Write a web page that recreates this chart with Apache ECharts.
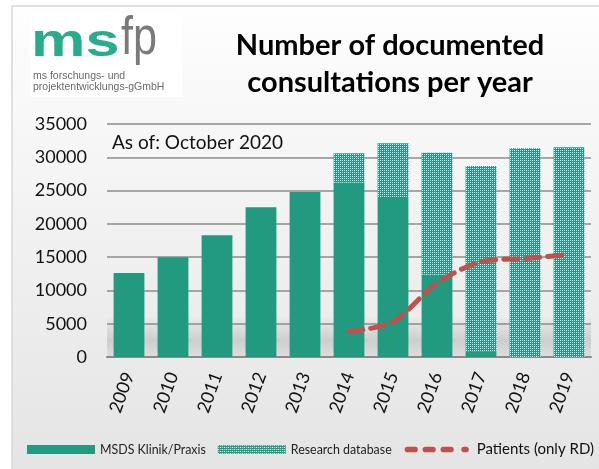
<!DOCTYPE html>
<html><head><meta charset="utf-8">
<script src="https://cdn.jsdelivr.net/npm/echarts@6/dist/echarts.min.js"></script>
<style>html,body{margin:0;padding:0;background:#fff}#c{width:599px;height:469px}</style>
</head><body><div id="c"></div>
<script>
const years = ['2009','2010','2011','2012','2013','2014','2015','2016','2017','2018','2019'];
const klinik = [12600, 15000, 18300, 22500, 24800, 26200, 23900, 12400, 800, 0, 0];
const research = [0, 0, 0, 0, 0, 4400, 8200, 18300, 27900, 31350, 31500];
const patients = [null, null, null, null, null, 3800, 5300, 11100, 14300, 14800, 15400];
const yTicks = [0, 5000, 10000, 15000, 20000, 25000, 30000, 35000];

const GREEN = '#219a80';
const pc = document.createElement('canvas');
pc.width = 4; pc.height = 4;
const g = pc.getContext('2d');
g.fillStyle = GREEN; g.fillRect(0,0,4,4);
g.fillStyle = '#ffffff'; g.fillRect(0,0,1,1); g.fillRect(2,2,1,1);
g.fillStyle = '#b8e0d4'; g.fillRect(2,0,1,1); g.fillRect(0,2,1,1);

const dashIcon = 'path://M0,0L0.05,0L0,0.05Z M72,9L71.95,9L72,8.95Z ' +
  'M4,1.5h8a3,3 0 0 1 0,6h-8a3,3 0 0 1 0,-6Z ' +
  'M23,1.5h8a3,3 0 0 1 0,6h-8a3,3 0 0 1 0,-6Z ' +
  'M42,1.5h8a3,3 0 0 1 0,6h-8a3,3 0 0 1 0,-6Z ' +
  'M64,1.5h2a3,3 0 0 1 0,6h-2a3,3 0 0 1 0,-6Z';

const chart = echarts.init(document.getElementById('c'), null, {renderer:'canvas'});
const FONT = 'Lato';
chart.setOption({
  animation: false,
  backgroundColor: '#ffffff',
  graphic: [
    {type:'rect', z:-10, shape:{x:12,y:6,width:600,height:470},
     style:{fill:{type:'linear',x:0,y:0,x2:0,y2:1,colorStops:[{offset:0,color:'#fefefe'},{offset:0.6,color:'#eeeeee'},{offset:1,color:'#e4e4e4'}]}, stroke:'#d8d8d8', lineWidth:1.5}},
    {type:'rect', z:-9, shape:{x:30,y:13,width:152,height:84}, style:{fill:'#ffffff'}},
    {type:'rect', z:-5, shape:{x:107,y:316,width:484,height:41},
     style:{fill:{type:'linear',x:0,y:0,x2:0,y2:1,colorStops:[{offset:0,color:'rgba(150,150,150,0)'},{offset:0.6,color:'rgba(150,150,150,0.35)'},{offset:1,color:'rgba(150,150,150,0.15)'}]}}},
    {type:'text', z:5, x:31, y:66, scaleX:1.33, style:{text:'ms', fill:'#27ad8c', font:'bold 46px "Liberation Sans"', verticalAlign:'bottom'}},
    {type:'text', z:5, x:121, y:12, scaleX:0.8, style:{text:'fp', fill:'#7a7a7a', font:'54px "Liberation Sans"', verticalAlign:'top'}},
    {type:'text', z:5, x:33, y:71, style:{text:'ms forschungs- und', fill:'#6a6a6a', font:'10.5px "Liberation Sans"', verticalAlign:'top'}},
    {type:'text', z:5, x:33, y:82, style:{text:'projektentwicklungs-gGmbH', fill:'#6a6a6a', font:'10.5px "Liberation Sans"', verticalAlign:'top'}},
    {type:'text', z:5, x:390, y:31, style:{text:'Number of documented', fill:'#000', font:'bold 29px '+FONT, align:'center', verticalAlign:'top'}},
    {type:'text', z:5, x:390, y:68, style:{text:'consultations per year', fill:'#000', font:'bold 29px '+FONT, align:'center', verticalAlign:'top'}},
    {type:'text', z:5, x:112, y:133, style:{text:'As of: October 2020', fill:'#111', font:'19px '+FONT, verticalAlign:'top'}}
  ],
  grid: {left:107, right:8, top:124, bottom:112, containLabel:false},
  legend: {
    left: 27, top: 442, width: 590, padding: 0, itemWidth: 68, itemHeight: 9, itemGap: 12,
    data: [
      {name:'MSDS Klinik/Praxis', icon:'rect'},
      {name:'Research database', icon:'rect'},
      {name:'Patients (only RD)', icon: dashIcon}
    ],
    formatter: n => n === 'Patients (only RD)' ? '{b|' + n + '}' : '{a|' + n + '}',
    textStyle: {rich: {a:{fontFamily:FONT, fontSize:12.4, color:'#222'}, b:{fontFamily:FONT, fontSize:15, color:'#111'}}}
  },
  xAxis: {
    type:'category', data: years,
    axisLine:{show:true, lineStyle:{color:'#8a8a8a', width:2}},
    axisTick:{show:false},
    axisLabel:{rotate:70, fontFamily:FONT, fontSize:18, color:'#111', margin:16}
  },
  yAxis: {
    type:'value', min:0, max:35000, interval:5000,
    axisLine:{show:false}, axisTick:{show:false},
    axisLabel:{fontFamily:FONT, fontSize:18, color:'#111', margin:20,
      formatter: v => yTicks.includes(v) ? String(v) : ''},
    splitLine:{lineStyle:{color:'#8c8c8c', width:1.5}}
  },
  series: [
    {name:'MSDS Klinik/Praxis', type:'bar', stack:'t', data: klinik, barCategoryGap:'30%',
     itemStyle:{color:GREEN}},
    {name:'Research database', type:'bar', stack:'t', data: research,
     itemStyle:{color:{image: pc, repeat:'repeat'}}},
    {name:'Patients (only RD)', type:'line', data: patients, smooth:0.3, showSymbol:false, symbol:'none',
     connectNulls:false, z:5,
     lineStyle:{color:'#c0504d', width:5, type:[14,8], cap:'round'},
     itemStyle:{color:'#c0504d'}}
  ]
});
</script></body></html>
